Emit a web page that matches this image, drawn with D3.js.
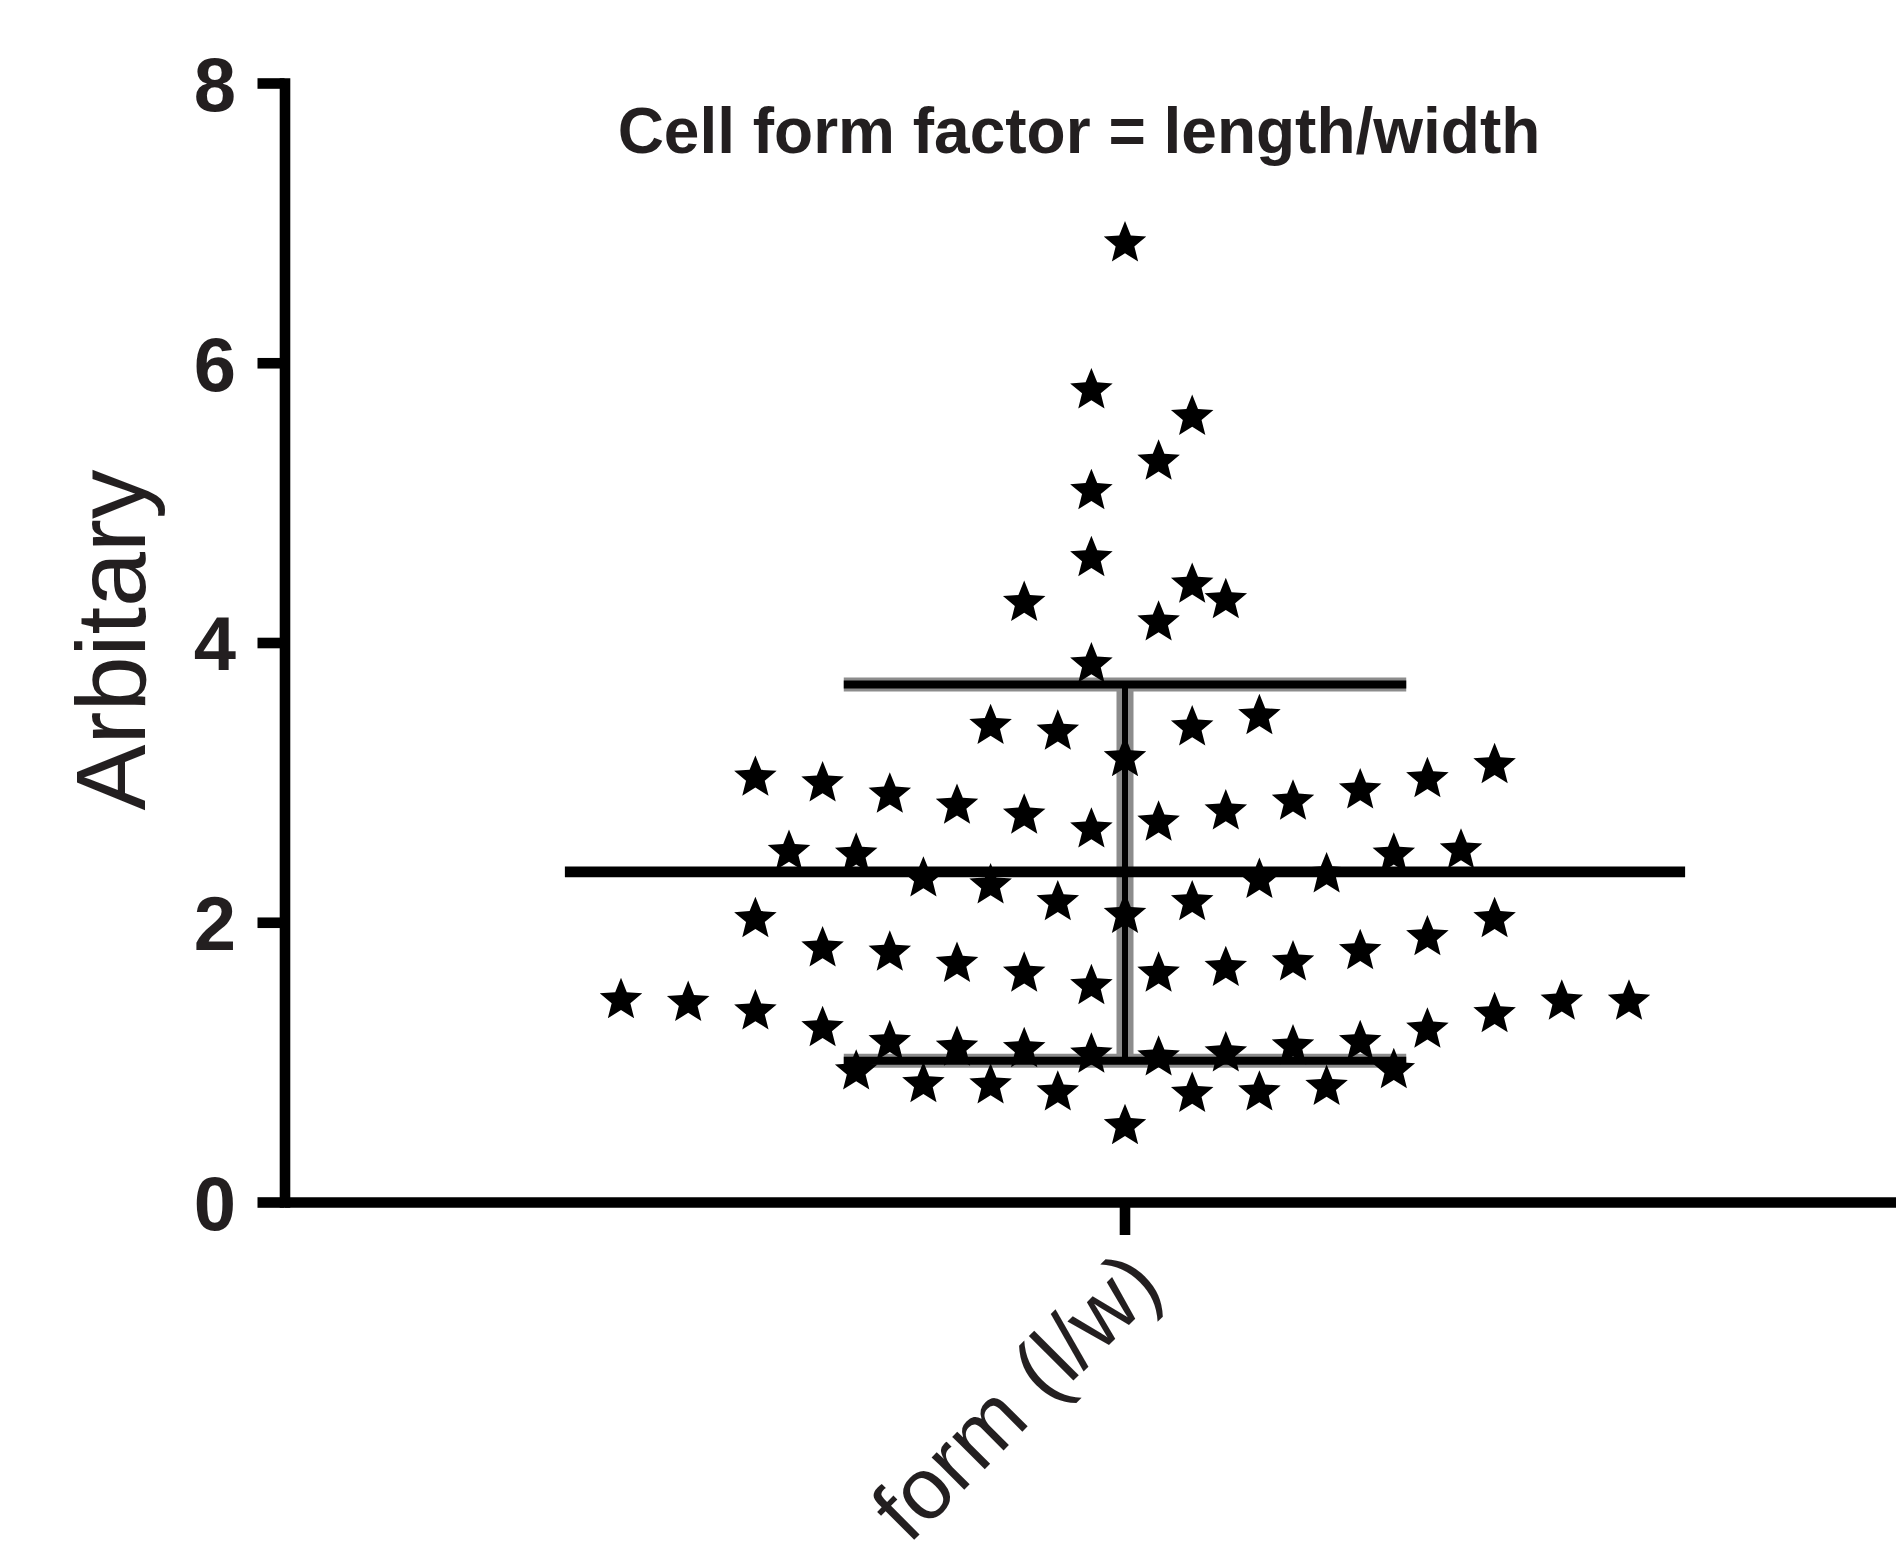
<!DOCTYPE html>
<html>
<head>
<meta charset="utf-8">
<script src="https://cdn.jsdelivr.net/npm/d3@7"></script>
<style>
  html, body { margin: 0; padding: 0; background: #ffffff; }
  svg { display: block; }
  text { font-family: "Liberation Sans", Arial, Helvetica, sans-serif; fill: #231f20; }
</style>
</head>
<body>
<script>
// ---------------- data ----------------
const categories = ["form (l/w)"];
const yTickValues = [0, 2, 4, 6, 8];
const titleText = "Cell form factor = length/width";
const yAxisLabel = "Arbitary";

// individual measurements (cell length / width)
const formValues = [
  6.86, 5.81, 5.62, 5.30, 5.09, 4.61, 4.42, 4.31, 4.29, 4.15,
  3.85, 3.48, 3.41, 3.40, 3.37, 3.18,
  3.13, 3.04, 3.03, 3.00, 2.95, 2.92, 2.87, 2.84, 2.80, 2.77, 2.72, 2.67,
  2.52, 2.51, 2.49, 2.49, 2.35, 2.32, 2.31, 2.27, 2.15, 2.15, 2.06,
  2.03, 2.03, 1.90, 1.82, 1.80, 1.79, 1.72, 1.71, 1.68, 1.64, 1.64, 1.55,
  1.45, 1.43, 1.44, 1.44, 1.37, 1.35, 1.25, 1.24, 1.15, 1.15, 1.12, 1.11, 1.10, 1.07, 1.06, 1.04,
  0.95, 0.94, 0.85, 0.83, 0.84, 0.79, 0.79, 0.78, 0.55
];
// horizontal scatter column of each point (in point-spacing units, 0 = centre)
const formSlots = [
  0, -1, 2, 1, -1, -1, 2, 3, -3, 1,
  -1, 4, -4, 2, -2, 0,
  11, -11, 9, -9, 7, -7, 5, -5, 3, -3, 1, -1,
  10, -10, 8, -8, 6, -6, 4, -4, 2, -2, 0,
  11, -11, 9, -9, 7, -7, 5, -5, 3, 1, -3, -1,
  -15, -13, 13, 15, -11, 11, -9, 9, 7, -7, 5, -5, -3, 3, -1, 1,
  8, -8, -6, 6, -4, 4, -2, 2, 0
];
// summary lines: mean and mean ± SD
const meanValues = [2.36];
const sdUpperValues = [3.70];
const sdLowerValues = [1.01];

// ---------------- drawing ----------------
const W = 1896, H = 1552;
const svg = d3.select("body").append("svg").attr("width", W).attr("height", H);
svg.append("rect").attr("width", W).attr("height", H).attr("fill", "#ffffff");

const y = d3.scaleLinear().domain([0, 8]).range([1202, 83]);
const x = d3.scaleBand().domain(categories).range([284.5, 1965.5]).padding(0);
const slot = d3.scaleLinear().domain([0, 1]).range([0, 33.6]);
const cx = c => x(c) + x.bandwidth() / 2;

const AXW = 10.6;

// Y axis
const yAxis = svg.append("g").attr("transform", "translate(284.5,0)")
  .call(d3.axisLeft(y).tickValues(yTickValues).tickSize(27).tickSizeOuter(0).tickPadding(21.5).tickFormat(d3.format("d")));
yAxis.select(".domain").attr("stroke", "#000").attr("stroke-width", AXW).attr("stroke-linecap", "square");
yAxis.selectAll(".tick line").attr("stroke", "#000").attr("stroke-width", AXW);
yAxis.selectAll(".tick text")
  .attr("dy", "0.36em")
  .style("font-size", "76px").style("font-weight", "bold").attr("fill", "#231f20");

// X axis
const xAxis = svg.append("g").attr("transform", `translate(0,${y(0)})`)
  .call(d3.axisBottom(x).tickSize(33).tickSizeOuter(0));
xAxis.select(".domain").attr("stroke", "#000").attr("stroke-width", AXW).attr("stroke-linecap", "butt");
xAxis.selectAll(".tick line").attr("stroke", "#000").attr("stroke-width", AXW);
xAxis.selectAll(".tick text")
  .attr("x", 0).attr("y", 0).attr("dy", 0)
  .attr("transform", "translate(40,87) rotate(-45)")
  .attr("text-anchor", "end")
  .style("font-size", "87px").style("font-weight", "normal").attr("fill", "#231f20");

// Title
svg.append("text")
  .attr("x", 1079).attr("y", 153)
  .attr("text-anchor", "middle")
  .style("font-size", "64px").style("font-weight", "bold")
  .text(titleText);

// Y axis label
svg.append("text")
  .attr("transform", "translate(145,640) rotate(-90)")
  .attr("text-anchor", "middle")
  .style("font-size", "99px").style("font-weight", "normal")
  .text(yAxisLabel);

// SD error bar (drawn under the points)
const sdG = svg.append("g");
categories.forEach((c, i) => {
  const xc = cx(c);
  const capHalf = slot(8.37);
  sdG.append("line").attr("x1", xc).attr("x2", xc).attr("y1", y(sdUpperValues[i])).attr("y2", y(sdLowerValues[i]))
    .attr("stroke", "#8c8c8c").attr("stroke-width", 17);
  [sdUpperValues[i], sdLowerValues[i]].forEach(v => {
    sdG.append("line").attr("x1", xc - capHalf).attr("x2", xc + capHalf).attr("y1", y(v)).attr("y2", y(v))
      .attr("stroke", "#8c8c8c").attr("stroke-width", 14);
  });
  sdG.append("line").attr("x1", xc).attr("x2", xc).attr("y1", y(sdUpperValues[i])).attr("y2", y(sdLowerValues[i]))
    .attr("stroke", "#000").attr("stroke-width", 6);
  [sdUpperValues[i], sdLowerValues[i]].forEach(v => {
    sdG.append("line").attr("x1", xc - capHalf).attr("x2", xc + capHalf).attr("y1", y(v)).attr("y2", y(v))
      .attr("stroke", "#000").attr("stroke-width", 8);
  });
});

// Points: a slightly chunky five-pointed star symbol type
const chunkyStar = {
  draw(ctx, size) {
    const R = Math.sqrt(size / 1.2);
    const r = R * 0.44;
    for (let k = 0; k < 10; k++) {
      const a = -Math.PI / 2 + k * Math.PI / 5;
      const rad = k % 2 === 0 ? R : r;
      const px = rad * Math.cos(a), py = rad * Math.sin(a);
      if (k === 0) ctx.moveTo(px, py); else ctx.lineTo(px, py);
    }
    ctx.closePath();
  }
};
const pts = formValues.map((v, i) => ({ v, s: formSlots[i], c: categories[0] }));
const star = d3.symbol().type(chunkyStar).size(600);
svg.append("g").selectAll("path").data(pts).join("path")
  .attr("d", star)
  .attr("transform", d => `translate(${cx(d.c) + slot(d.s)},${y(d.v) + 1})`)
  .attr("fill", "#000");

// Mean line
categories.forEach((c, i) => {
  const xc = cx(c);
  const half = slot(16.67);
  svg.append("line").attr("x1", xc - half).attr("x2", xc + half)
    .attr("y1", y(meanValues[i])).attr("y2", y(meanValues[i]))
    .attr("stroke", "#000").attr("stroke-width", AXW);
});
</script>
</body>
</html>
